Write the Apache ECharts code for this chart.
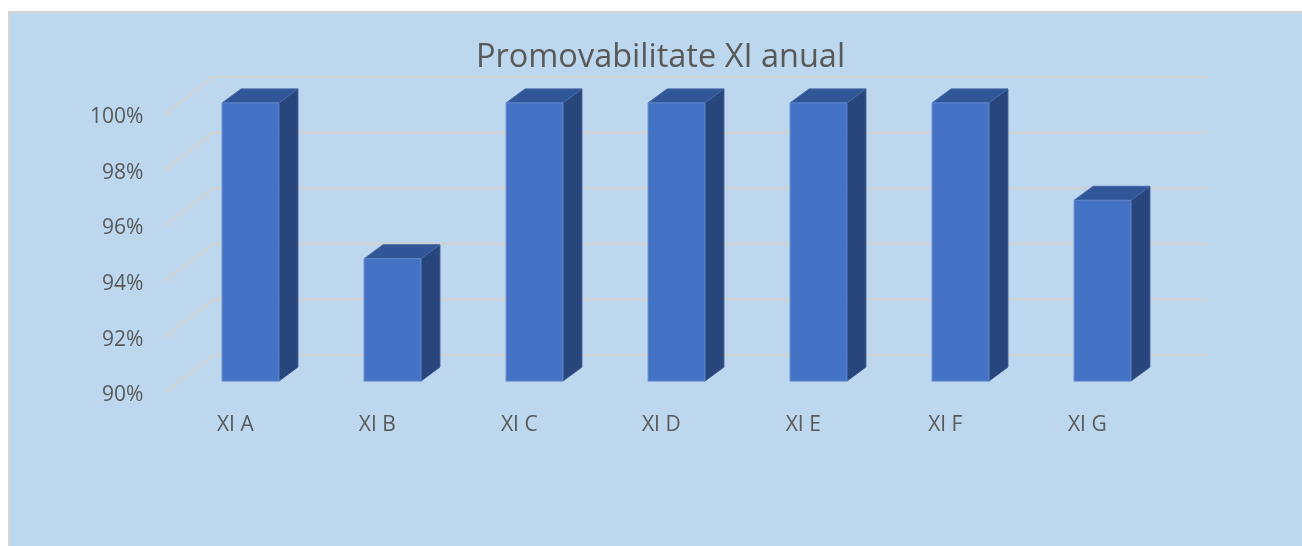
<!DOCTYPE html>
<html>
<head>
<meta charset="utf-8">
<script src="https://cdn.jsdelivr.net/npm/echarts@6/dist/echarts.min.js"></script>
<style>
html,body{margin:0;padding:0;background:#fff;width:1302px;height:546px;overflow:hidden}
#panel{position:absolute;left:8px;top:11px;width:1294px;height:535px;background:#BDD7EE;border-left:2px solid #D2D4D6;border-top:2px solid #D2D4D6;box-sizing:border-box}
#chart{position:absolute;left:0;top:0;width:1302px;height:546px}
</style>
</head>
<body>
<div id="panel"></div>
<div id="chart"></div>
<script>
const titleText = 'Promovabilitate XI anual';
const categories = ['XI A', 'XI B', 'XI C', 'XI D', 'XI E', 'XI F', 'XI G'];
const values = [100, 94.4, 100, 100, 100, 100, 96.5];
const axisTicks = [90, 92, 94, 96, 98, 100];

const FONT = '"Open Sans", "Noto Sans", sans-serif';
const WALL = {dx: 49, dy: -37.7};       // floor depth of the 3D box
const BAR_FRONT = {dx: 15.2, dy: -11.7}; // front face of bars inside the box
const BAR_DEPTH = {dx: 19, dy: -14};
const BAR_RATIO = 0.4;

function renderGrid(params, api) {
  const cs = params.coordSys;
  const y = api.coord([0, api.value(0)])[1];
  const x0 = cs.x, x1 = cs.x + WALL.dx, x2 = cs.x + cs.width + WALL.dx, y1 = y + WALL.dy;
  return {
    type: 'polyline',
    shape: {points: [[x0, y], [x1, y1], [x2, y1]]},
    style: {fill: null, stroke: '#CFD1D3', lineWidth: 2.4}
  };
}

function renderBar(params, api) {
  const top = api.coord([api.value(0), api.value(1)]);
  const base = api.coord([api.value(0), 90]);
  const w = api.size([1, 0])[0] * BAR_RATIO;
  const l = top[0] - w / 2 + BAR_FRONT.dx, r = l + w;
  const t = top[1] + BAR_FRONT.dy, b = base[1] + BAR_FRONT.dy;
  const dx = BAR_DEPTH.dx, dy = BAR_DEPTH.dy;
  return {
    type: 'group',
    children: [
      {type: 'polygon', shape: {points: [[r, t], [r + dx, t + dy], [r + dx, b + dy], [r, b]]},
       style: {fill: '#28467C', stroke: '#35558F', lineWidth: 1}},
      {type: 'polygon', shape: {points: [[l, t], [l + dx, t + dy], [r + dx, t + dy], [r, t]]},
       style: {fill: '#315697', stroke: '#4668A5', lineWidth: 1}},
      {type: 'rect', shape: {x: l, y: t, width: w, height: b - t},
       style: {fill: '#4472C4', stroke: '#6288CF', lineWidth: 1}}
    ]
  };
}

const chart = echarts.init(document.getElementById('chart'), null, {renderer: 'canvas'});
chart.setOption({
  backgroundColor: 'transparent',
  animation: false,
  title: {
    text: titleText, left: 655.5, top: 36, textAlign: 'center',
    textStyle: {fontFamily: FONT, fontSize: 32.5, fontWeight: 'normal', color: '#595959'}
  },
  grid: {left: 164.3, top: 114.6, width: 994, height: 278.2, containLabel: false},
  xAxis: {
    type: 'category', data: categories,
    axisLine: {show: false}, axisTick: {show: false}, splitLine: {show: false},
    axisLabel: {margin: 22, color: '#595959', fontFamily: FONT, fontSize: 21}
  },
  yAxis: {
    type: 'value', min: 90, max: 100, interval: 2,
    axisLine: {show: false}, axisTick: {show: false}, splitLine: {show: false},
    axisLabel: {
      margin: 21, formatter: '{a|{value}%}',
      rich: {a: {color: '#595959', fontFamily: FONT, fontSize: 21, padding: [5, 0, 0, 0]}}
    }
  },
  series: [
    {type: 'custom', name: 'grid', z: 1, silent: true, clip: false, coordinateSystem: 'cartesian2d',
     renderItem: renderGrid, data: axisTicks.map(v => [v]), encode: {y: 0}},
    {type: 'custom', name: 'Promovabilitate', z: 2, clip: false, coordinateSystem: 'cartesian2d',
     renderItem: renderBar, data: categories.map((c, i) => [i, values[i]]), encode: {x: 0, y: 1}}
  ]
});
</script>
</body>
</html>
